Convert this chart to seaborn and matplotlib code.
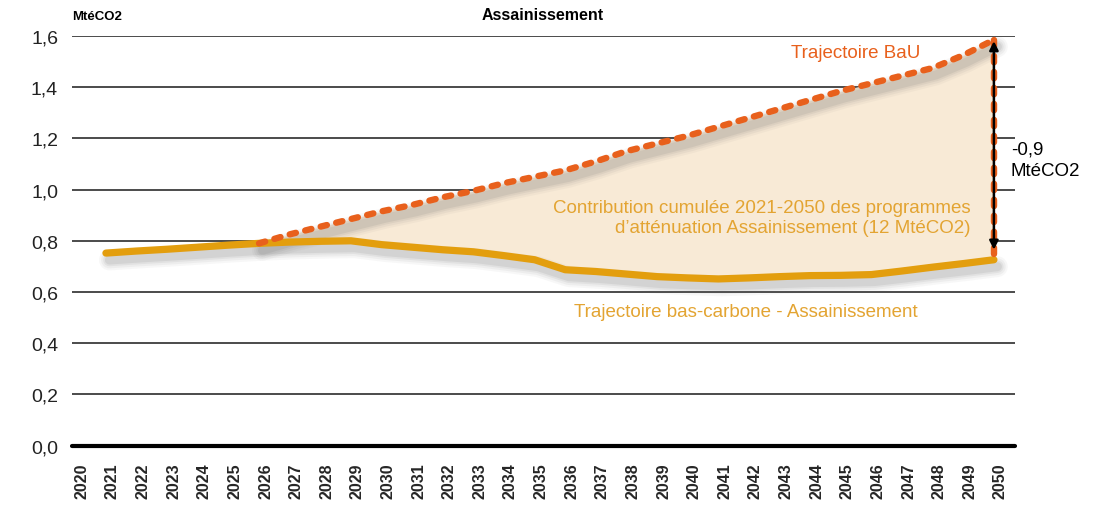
import numpy as np
import pandas as pd
import matplotlib
matplotlib.use("Agg")
import matplotlib.pyplot as plt
import matplotlib.patheffects as pe
from matplotlib.transforms import ScaledTranslation
from matplotlib.ticker import FuncFormatter
import seaborn as sns

# Emissions trajectories for the sanitation sector (MtCO2e)
years_low = list(range(2021, 2051))
low_carbon = [0.752, 0.760, 0.767, 0.775, 0.783, 0.790, 0.795, 0.798, 0.800, 0.785,
              0.775, 0.765, 0.757, 0.742, 0.726, 0.687, 0.680, 0.670, 0.660, 0.655,
              0.651, 0.655, 0.660, 0.664, 0.665, 0.668, 0.682, 0.697, 0.711, 0.726]

years_bau = list(range(2026, 2051))
bau = [0.790, 0.825, 0.855, 0.885, 0.915, 0.940, 0.970, 0.995, 1.025, 1.050,
       1.075, 1.110, 1.150, 1.180, 1.210, 1.245, 1.280, 1.315, 1.350, 1.385,
       1.415, 1.445, 1.475, 1.525, 1.585]

tick_years = list(range(2020, 2051))
y_ticks = [0.0, 0.2, 0.4, 0.6, 0.8, 1.0, 1.2, 1.4, 1.6]

title = "Assainissement"
unit = "MtéCO2"
label_bau = "Trajectoire BaU"
label_low = "Trajectoire bas-carbone - Assainissement"
label_area = "Contribution cumulée 2021-2050 des programmes\nd’atténuation Assainissement (12 MtéCO2)"
label_gap = "-0,9\nMtéCO2"

ORANGE = "#E8601C"
GOLD = "#E39E0E"
GOLD_TXT = "#E3A432"
FILL = "#F8EAD6"

sns.set_theme(style="white")
plt.rcParams["font.family"] = ["Liberation Sans", "DejaVu Sans"]

df_low = pd.DataFrame({"year": years_low, "value": low_carbon})
df_bau = pd.DataFrame({"year": years_bau, "value": bau})
df_gap = pd.DataFrame({"year": [years_bau[-1], years_bau[-1]],
                       "value": [bau[-1], low_carbon[-1]]})

fig = plt.figure(figsize=(11.12, 5.06), dpi=100)
ax = fig.add_axes([0.0647, 0.1174, 0.8481, 0.8095])

# shaded gap between the two trajectories
low_aligned = df_low.set_index("year").loc[years_bau, "value"].values
ax.fill_between(years_bau, low_aligned, bau, color=FILL, lw=0, zorder=1)


def soft_shadow(lw):
    # stacked translucent strokes give a blurred drop shadow
    layers = []
    for extra, a in [(10, 0.05), (7, 0.07), (4, 0.09), (1.5, 0.12)]:
        layers.append(pe.SimpleLineShadow(offset=(2.5, -5), shadow_color="#707070",
                                          alpha=a, linewidth=lw + extra))
    return layers


# shadows drawn as solid strokes beneath the lines
for d in (df_low, df_bau):
    sns.lineplot(data=d, x="year", y="value", ax=ax, color="gray", lw=5,
                 solid_capstyle="round", zorder=2, clip_on=False,
                 path_effects=soft_shadow(5), sort=False)

sns.lineplot(data=df_low, x="year", y="value", ax=ax, color=GOLD, lw=5.2,
             solid_capstyle="round", zorder=4, clip_on=False)
sns.lineplot(data=df_bau, x="year", y="value", ax=ax, color=ORANGE, lw=4.6,
             linestyle=(0, (1.0, 1.5)), dash_capstyle="round", zorder=5,
             clip_on=False)

# vertical gap marker at the final year
sns.lineplot(data=df_gap, x="year", y="value", ax=ax, color=ORANGE, lw=4.6,
             linestyle=(0, (1.0, 1.5)), dash_capstyle="round", zorder=5,
             clip_on=False, sort=False, estimator=None)
x_end = years_bau[-1]
ax.annotate("", xy=(x_end, bau[-1] - 0.005), xytext=(x_end, 0.765),
            arrowprops=dict(arrowstyle="<|-|>", color="black", lw=1.8,
                            mutation_scale=13, shrinkA=0, shrinkB=0),
            zorder=6, annotation_clip=False)

# axes and grid
ax.set_xlim(2019.89, 2050.69)
ax.set_ylim(0, 1.6)
for s in ax.spines.values():
    s.set_visible(False)
ax.set_yticks(y_ticks)
ax.yaxis.set_major_formatter(FuncFormatter(lambda v, p: f"{v:.1f}".replace(".", ",")))
for yv in y_ticks[1:]:
    ax.axhline(yv, color="#1a1a1a", lw=1.1, zorder=0.5)
ax.axhline(0, color="black", lw=3, zorder=3, clip_on=False)
ax.tick_params(axis="y", direction="in", length=18, width=2, color="black",
               pad=10, labelsize=14, labelcolor="#222222")
ax.set_xticks(tick_years)
ax.set_xticklabels([str(y) for y in tick_years], rotation=90, fontweight="bold",
                   fontsize=11.5, va="top")
ax.tick_params(axis="x", length=0, pad=12)
offset = ScaledTranslation(6.5 / 100, 0, fig.dpi_scale_trans)
for lbl in ax.get_xticklabels():
    lbl.set_transform(lbl.get_transform() + offset)
ax.set_xlabel("")
ax.set_ylabel("")
ax.grid(False)

# titles and labels
fig.text(543 / 1112, 1 - 16 / 506, title, ha="center", va="center",
         fontsize=11.5, fontweight="bold", color="black")
fig.text(72 / 1112, 1 - 17 / 506, unit, ha="left", va="center",
         fontsize=9.5, fontweight="bold", color="black")
ax.text(2045.5, 1.535, label_bau, ha="center", va="center", fontsize=13.5, color=ORANGE)
ax.text(2049.25, 0.89, label_area, ha="right", va="center", fontsize=13.5,
        color=GOLD_TXT, linespacing=1.25)
ax.text(2041.9, 0.525, label_low, ha="center", va="center", fontsize=13.5, color=GOLD_TXT)
ax.text(2050.55, 1.115, label_gap, ha="left", va="center", fontsize=13.5, color="black",
        linespacing=1.35)

fig.savefig("out.png", dpi=100)
